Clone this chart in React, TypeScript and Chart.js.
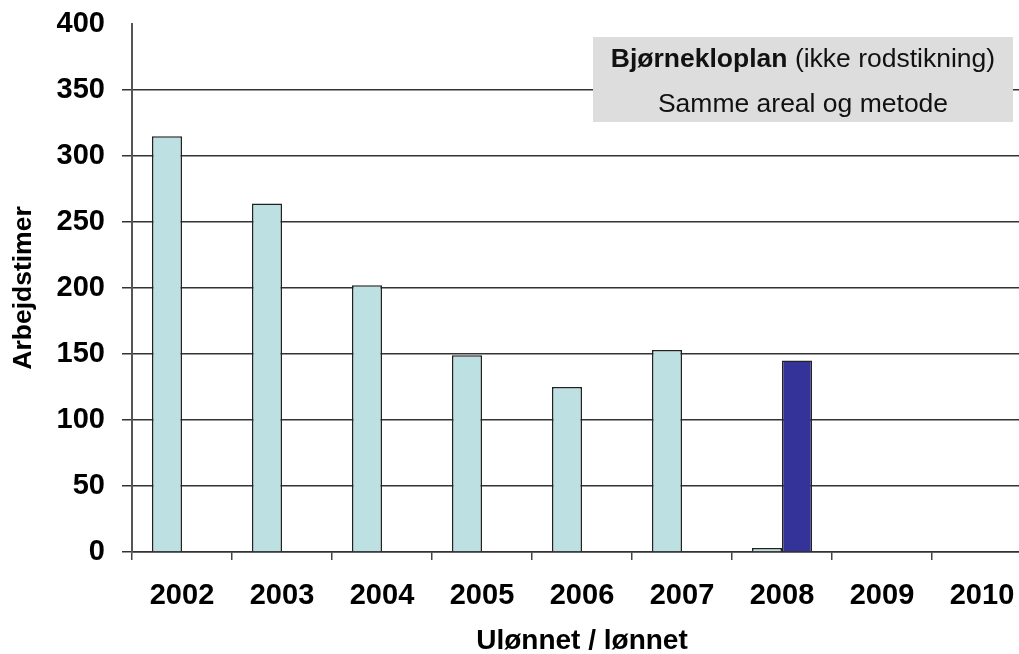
import React, { useEffect, useRef } from "react";
import { Chart, registerables } from "chart.js";

Chart.register(...registerables);

const years = ["2002", "2003", "2004", "2005", "2006", "2007", "2008", "2009", "2010"];
const ulonnet = [315, 264, 202, 149, 125, 153, 3, null, null];
const lonnet = [null, null, null, null, null, null, 145, null, null];
const yTicks = [0, 50, 100, 150, 200, 250, 300, 350, 400];
const boxBold = "Bjørnekloplan";
const boxRest = " (ikke rodstikning)";
const boxLine2 = "Samme areal og metode";
const yTitle = "Arbejdstimer";
const xTitle = "Ulønnet / lønnet";

const FONT = "'Liberation Sans', Arial, sans-serif";

const boxPlugin = {
  id: "textBox",
  afterDraw(chart: any) {
    const ctx = chart.ctx;
    ctx.save();
    ctx.fillStyle = "#DDDDDD";
    ctx.fillRect(593, 37, 420, 85);
    ctx.fillStyle = "#111";
    ctx.textBaseline = "alphabetic";
    ctx.textAlign = "left";
    const cx = 803;
    const fs = 26.5;
    ctx.font = `bold ${fs}px ${FONT}`;
    const wb = ctx.measureText(boxBold).width;
    ctx.font = `${fs}px ${FONT}`;
    const wr = ctx.measureText(boxRest).width;
    let x = cx - (wb + wr) / 2;
    ctx.font = `bold ${fs}px ${FONT}`;
    ctx.fillText(boxBold, x, 67);
    ctx.font = `${fs}px ${FONT}`;
    ctx.fillText(boxRest, x + wb, 67);
    ctx.textAlign = "center";
    ctx.fillText(boxLine2, cx, 112);
    ctx.restore();
  },
};

export default function App() {
  const ref = useRef<HTMLCanvasElement>(null);
  useEffect(() => {
    if (!ref.current) return;
    const chart = new Chart(ref.current, {
      type: "bar",
      data: {
        labels: years,
        datasets: [
          {
            label: "Ulønnet",
            data: ulonnet as any,
            backgroundColor: "#BDE0E3",
            borderColor: "#222",
            borderWidth: 1.5,
            barPercentage: 1,
            categoryPercentage: 0.6,
          },
          {
            label: "Lønnet",
            data: lonnet as any,
            backgroundColor: "#333399",
            borderColor: "#222",
            borderWidth: 1.5,
            barPercentage: 1,
            categoryPercentage: 0.6,
          },
        ],
      },
      options: {
        animation: false,
        responsive: false,
        maintainAspectRatio: false,
        layout: { padding: { top: 24, right: 8, left: 0, bottom: 0 } },
        plugins: { legend: { display: false }, tooltip: { enabled: false } },
        scales: {
          x: {
            grid: {
              offset: true,
              drawOnChartArea: false,
              drawTicks: true,
              tickLength: 8,
              color: "#444",
              lineWidth: 1.5,
            },
            border: { color: "#333", width: 1.5 },
            ticks: {
              color: "#000",
              padding: 19,
              font: { family: FONT, size: 29, weight: "bold" },
            },
            title: {
              display: true,
              text: xTitle,
              color: "#000",
              padding: { top: 0, bottom: 0 },
              font: { family: FONT, size: 28, weight: "bold", lineHeight: 0.9 },
            },
            afterFit(scale: any) {
              scale.height = 102;
            },
          },
          y: {
            min: 0,
            max: 400,
            afterBuildTicks(scale: any) {
              scale.ticks = yTicks.map((v) => ({ value: v }));
            },
            grid: {
              color: (c: any) => (c.tick && c.tick.value === 400 ? "rgba(0,0,0,0)" : "#333"),
              lineWidth: 1.5,
              tickLength: 10,
            },
            border: { color: "#555", width: 2 },
            ticks: {
              color: "#000",
              padding: 17,
              font: { family: FONT, size: 29, weight: "bold" },
            },
            title: {
              display: true,
              text: yTitle,
              color: "#000",
              padding: { top: 8, bottom: 0 },
              font: { family: FONT, size: 26.5, weight: "bold" },
            },
            afterFit(scale: any) {
              scale.width = 132;
              scale.paddingTop = 0;
              scale.paddingBottom = 0;
            },
          },
        },
      },
      plugins: [boxPlugin],
    });
    return () => chart.destroy();
  }, []);
  return (
    <div
      style={{
        position: "fixed",
        left: 0,
        top: 0,
        width: 1019,
        height: 654,
        overflow: "hidden",
        background: "#fff",
      }}
    >
      <canvas ref={ref} width={1040} height={654} style={{ display: "block" }} />
    </div>
  );
}
